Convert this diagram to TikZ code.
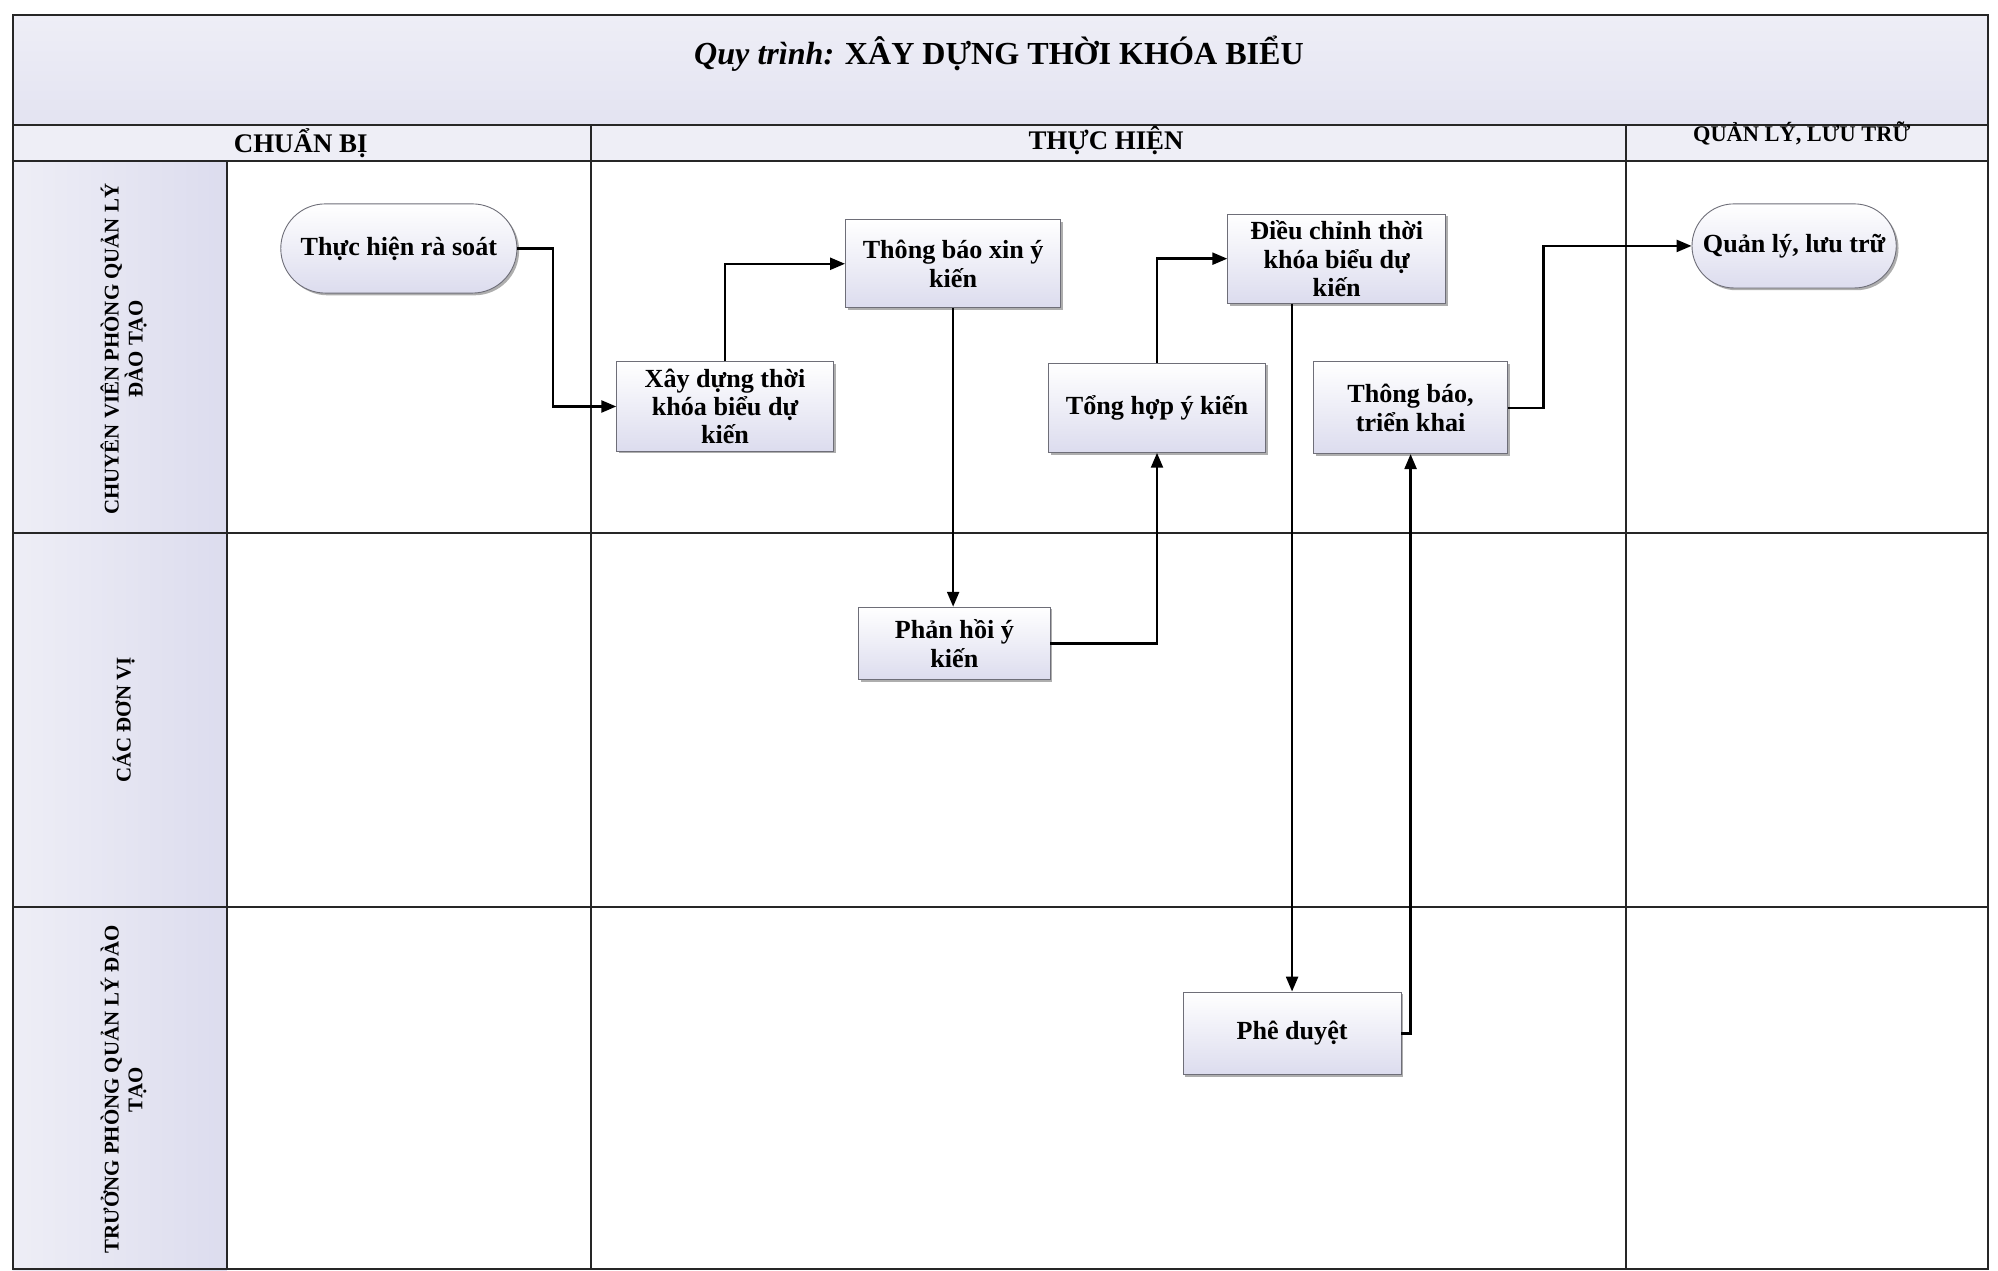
\documentclass[tikz,border=0pt]{standalone}
\usepackage{fontspec}
\setmainfont{Liberation Serif}
\usetikzlibrary{arrows.meta,shapes.misc,shadows,calc}
\definecolor{lav}{HTML}{DCDCEE}
\definecolor{lavlight}{HTML}{EEEEF6}
\definecolor{boxline}{HTML}{6E6E78}
\tikzset{
  frame/.style={line width=1.4pt, draw=black!85},
  procbox/.style={rectangle, draw=boxline, line width=0.6pt, top color=white, bottom color=lav,
    drop shadow={shadow xshift=1.5pt, shadow yshift=-1.5pt, fill=black!45, opacity=0.7},
    align=center, font=\fontsize{17.5}{19}\selectfont\bfseries, inner sep=2pt},
  termbox/.style={rounded rectangle, draw=boxline, line width=0.6pt, top color=white, bottom color=lav,
    drop shadow={shadow xshift=1.5pt, shadow yshift=-1.5pt, fill=black!45, opacity=0.7},
    align=center, font=\fontsize{17.5}{19}\selectfont\bfseries, inner sep=2pt},
  arr/.style={line width=1.6pt, draw=black, -{Triangle[length=10pt,width=8pt]}},
  hdr/.style={font=\fontsize{18}{20}\selectfont\bfseries},
  lanelbl/.style={rotate=90, align=center, font=\fontsize{14}{16}\selectfont\bfseries}
}
\begin{document}
\begin{tikzpicture}[x=0.3mm,y=-0.3mm]
\useasboundingbox (0,0) rectangle (1568,997);
\fill[white] (0,0) rectangle (1568,997);
% title band and header
\fill[top color=lavlight, bottom color=lav!80] (10,12) rectangle (1560,98);
\fill[lavlight] (10,98) rectangle (1560,126);
\fill[left color=lavlight, right color=lav] (10,126) rectangle (178,997);
% grid
\draw[frame] (10,12) rectangle (1560,996);
\draw[frame] (10,98) -- (1560,98);
\draw[frame] (10,126) -- (1560,126);
\draw[frame] (10,418) -- (1560,418);
\draw[frame] (10,712) -- (1560,712);
\draw[frame] (464,98) -- (464,996);
\draw[frame] (1276,98) -- (1276,996);
\draw[frame] (178,126) -- (178,996);
% title and headers
\node (title) at (784,42) {\fontsize{21.5}{24}\selectfont\bfseries\itshape Quy trình: \upshape XÂY DỰNG THỜI KHÓA BIỂU};
\node[hdr] (h1) at (236,112) {CHUẨN BỊ};
\node[hdr] (h2) at (868,110) {THỰC HIỆN};
\node[hdr, font=\fontsize{15}{17}\selectfont\bfseries] (h3) at (1414,105) {QUẢN LÝ, LƯU TRỮ};
% lane labels
\node[lanelbl] (l1) at (97,274) {CHUYÊN VIÊN PHÒNG QUẢN LÝ\\ĐÀO TẠO};
\node[lanelbl] (l2) at (97,565) {CÁC ĐƠN VỊ};
\node[lanelbl] (l3) at (97,855) {TRƯỞNG PHÒNG QUẢN LÝ ĐÀO\\TẠO};
% nodes
\node[termbox, minimum width=190*0.3mm, minimum height=70*0.3mm] (ra) at (313,195) {Thực hiện rà soát};
\node[procbox, minimum width=170*0.3mm, minimum height=70*0.3mm] (xd) at (569,319) {Xây dựng thời\\khóa biểu dự\\kiến};
\node[procbox, minimum width=169*0.3mm, minimum height=69*0.3mm] (tb) at (748,207) {Thông báo xin ý\\kiến};
\node[procbox, minimum width=150*0.3mm, minimum height=57*0.3mm] (ph) at (749,505) {Phản hồi ý\\kiến};
\node[procbox, minimum width=170*0.3mm, minimum height=70*0.3mm] (th) at (908,320) {Tổng hợp ý kiến};
\node[procbox, minimum width=171*0.3mm, minimum height=70*0.3mm] (dc) at (1049,203) {Điều chỉnh thời\\khóa biểu dự\\kiến};
\node[procbox, minimum width=152*0.3mm, minimum height=72*0.3mm] (tk) at (1107,320) {Thông báo,\\triển khai};
\node[procbox, minimum width=171*0.3mm, minimum height=65*0.3mm] (pd) at (1014,811) {Phê duyệt};
\node[termbox, minimum width=165*0.3mm, minimum height=66*0.3mm] (ql) at (1408,193) {Quản lý, lưu trữ};
% connectors
\draw[arr] (ra.east) -- ++(28,0) |- (xd.west);
\draw[arr] (xd.north) |- (tb.west);
\draw[arr] (tb.south) -- (tb.south |- ph.north);
\draw[arr] (ph.east) -| (th.south);
\draw[arr] (th.north) |- (dc.west);
\draw[arr] (dc.south -| pd.north) -- (pd.north);
\draw[arr] (pd.east) -| (tk.south);
\draw[arr] (tk.east) -- ++(28,0) |- (ql.west);
\end{tikzpicture}
\end{document}
